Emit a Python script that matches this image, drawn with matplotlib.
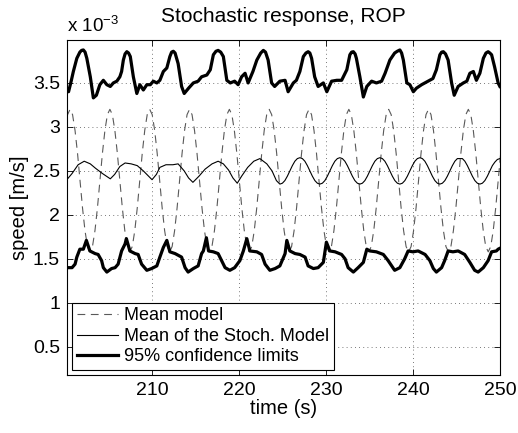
import numpy as np
import matplotlib
matplotlib.use('Agg')
import matplotlib.pyplot as plt

plt.rcParams['font.family'] = ['Liberation Sans', 'DejaVu Sans']
plt.rcParams['mathtext.fontset'] = 'custom'
plt.rcParams['mathtext.rm'] = 'Liberation Sans'
plt.rcParams['mathtext.it'] = 'Liberation Sans'

# speed values are in units of 1e-3 m/s
# mean model: sampled every 0.28625 s from t = 200 s
model_speed = [
    2.96, 3.14, 3.20, 3.14, 2.96, 2.70, 2.39, 2.08, 1.82, 1.64, 1.58, 1.64, 1.82, 2.08, 2.39, 2.70,
    2.96, 3.14, 3.20, 3.14, 2.96, 2.70, 2.39, 2.08, 1.82, 1.64, 1.58, 1.64, 1.82, 2.08, 2.39, 2.70,
    2.96, 3.14, 3.20, 3.14, 2.96, 2.70, 2.39, 2.08, 1.82, 1.64, 1.58, 1.64, 1.82, 2.08, 2.39, 2.70,
    2.96, 3.14, 3.20, 3.14, 2.96, 2.70, 2.39, 2.08, 1.82, 1.64, 1.58, 1.64, 1.82, 2.08, 2.39, 2.70,
    2.96, 3.14, 3.20, 3.14, 2.96, 2.70, 2.39, 2.08, 1.82, 1.64, 1.58, 1.64, 1.82, 2.08, 2.39, 2.70,
    2.96, 3.14, 3.20, 3.14, 2.96, 2.70, 2.39, 2.08, 1.82, 1.64, 1.58, 1.64, 1.82, 2.08, 2.39, 2.70,
    2.96, 3.14, 3.20, 3.14, 2.96, 2.70, 2.39, 2.08, 1.82, 1.64, 1.58, 1.64, 1.82, 2.08, 2.39, 2.70,
    2.96, 3.14, 3.20, 3.14, 2.96, 2.70, 2.39, 2.08, 1.82, 1.64, 1.58, 1.64, 1.82, 2.08, 2.39, 2.70,
    2.96, 3.14, 3.20, 3.14, 2.96, 2.70, 2.39, 2.08, 1.82, 1.64, 1.58, 1.64, 1.82, 2.08, 2.39, 2.70,
    2.96, 3.14, 3.20, 3.14, 2.96, 2.70, 2.39, 2.08, 1.82, 1.64, 1.58, 1.64, 1.82, 2.08, 2.39, 2.70,
    2.96, 3.14, 3.20, 3.14, 2.96, 2.70, 2.39, 2.08, 1.82, 1.64, 1.58, 1.64, 1.82, 2.08, 2.39, 2.70,
    2.96,
]
t_model = 200.0 + 0.28625 * np.arange(len(model_speed))

# mean of the stochastic model, irregular part
t_stoch_a = [200.2, 200.8, 201.5, 202.2, 202.9, 203.5, 204.3, 205.2, 205.7, 206.3,
             206.9, 207.6, 208.3, 209.0, 209.6, 210.0, 210.5, 210.9, 211.6, 212.4,
             213.0, 213.7, 214.2, 214.7, 215.4, 216.1, 216.9, 217.6, 218.2, 218.8,
             219.3, 219.8, 220.3, 221.0, 221.7, 222.4, 223.2, 223.8, 224.3]
stoch_a = [2.40, 2.47, 2.57, 2.61, 2.58, 2.53, 2.47, 2.41, 2.46, 2.55,
           2.59, 2.58, 2.56, 2.50, 2.44, 2.40, 2.46, 2.54, 2.57, 2.57,
           2.58, 2.50, 2.42, 2.37, 2.44, 2.52, 2.58, 2.61, 2.58, 2.51,
           2.42, 2.36, 2.44, 2.54, 2.61, 2.64, 2.58, 2.50, 2.39]
# regular part, sampled every 0.2875 s from t = 224.7 s
stoch_b = [
    2.35, 2.36, 2.39, 2.44, 2.50, 2.56, 2.61, 2.64, 2.65, 2.64, 2.61, 2.56, 2.50, 2.44, 2.39, 2.36,
    2.35, 2.36, 2.39, 2.44, 2.50, 2.56, 2.61, 2.64, 2.65, 2.64, 2.61, 2.56, 2.50, 2.44, 2.39, 2.36,
    2.35, 2.36, 2.39, 2.44, 2.50, 2.56, 2.61, 2.64, 2.65, 2.64, 2.61, 2.56, 2.50, 2.44, 2.39, 2.36,
    2.35, 2.36, 2.39, 2.44, 2.50, 2.56, 2.61, 2.64, 2.65, 2.64, 2.61, 2.56, 2.50, 2.44, 2.39, 2.36,
    2.35, 2.36, 2.39, 2.44, 2.50, 2.56, 2.61, 2.64, 2.64, 2.64, 2.61, 2.56, 2.50, 2.44, 2.39, 2.36,
    2.35, 2.36, 2.39, 2.44, 2.50, 2.56, 2.60, 2.63, 2.64,
]
t_stoch_b = 224.7 + 0.2875 * np.arange(len(stoch_b))

# 95% confidence limits
t_upper = [200.2, 200.4, 200.7, 200.95, 201.35, 201.7, 201.9, 202.1, 202.3, 202.5, 202.9, 203.25,
           203.6, 204.0, 204.4, 204.8, 205.2, 205.55, 205.95, 206.3, 206.5, 206.7,
           206.9, 207.1, 207.3, 207.5, 207.85, 208.25, 208.6, 209.0, 209.4, 209.8, 210.15, 210.55,
           210.9, 211.3, 211.7, 212.05, 212.25, 212.45, 212.65, 213.0, 213.4, 213.7, 214.2,
           214.75, 215.3, 215.7, 216.3, 216.7, 217.05, 217.35, 217.6, 217.9, 218.2, 218.6, 219.0,
           219.5, 219.9, 220.3, 220.7, 221.05, 221.6, 222.05, 222.5, 222.8, 223.05, 223.35, 223.75,
           224.1, 224.7, 225.3, 225.65, 226.25, 226.6, 227.0, 227.4, 227.7, 227.95, 228.15, 228.35,
           228.7, 229.1, 229.7, 230.1, 230.65, 231.25, 231.8, 232.4, 232.75, 232.95, 233.15, 233.35,
           233.5, 233.9, 234.3, 234.7, 235.25, 235.8, 236.4, 236.8, 237.35, 237.9,
           238.2, 238.5, 238.7, 238.9, 239.3, 239.65, 240.05, 240.4, 241.0, 241.75, 242.3, 242.7,
           243.1, 243.3, 243.5, 243.75, 244.05, 244.45, 244.75, 245.2, 245.8, 246.2, 246.55, 246.95,
           247.3, 247.7, 248.1, 248.4, 248.65, 248.85, 249.05, 249.4, 249.8, 250.0]
upper = [3.44, 3.40, 3.52, 3.63, 3.78, 3.85, 3.87, 3.875, 3.85, 3.78, 3.57, 3.33,
         3.36, 3.48, 3.53, 3.48, 3.46, 3.50, 3.52, 3.57, 3.63, 3.76,
         3.83, 3.855, 3.84, 3.80, 3.57, 3.38, 3.48, 3.42, 3.48, 3.48, 3.52, 3.50,
         3.53, 3.63, 3.67, 3.80, 3.85, 3.86, 3.84, 3.72, 3.46, 3.38, 3.44,
         3.50, 3.52, 3.57, 3.59, 3.65, 3.82, 3.86, 3.87, 3.85, 3.80, 3.53, 3.50,
         3.52, 3.48, 3.57, 3.61, 3.50, 3.63, 3.76, 3.84, 3.87, 3.85, 3.76, 3.50,
         3.46, 3.52, 3.53, 3.40, 3.50, 3.53, 3.63, 3.80, 3.84, 3.855, 3.84, 3.78,
         3.57, 3.46, 3.50, 3.40, 3.52, 3.53, 3.53, 3.65, 3.82, 3.85, 3.855, 3.83,
         3.78, 3.57, 3.34, 3.46, 3.52, 3.50, 3.52, 3.61, 3.76, 3.84,
         3.86, 3.875, 3.84, 3.76, 3.50, 3.48, 3.40, 3.44, 3.48, 3.52, 3.55, 3.65,
         3.82, 3.85, 3.855, 3.83, 3.76, 3.50, 3.36, 3.46, 3.50, 3.52, 3.61, 3.63,
         3.53, 3.61, 3.78, 3.84, 3.855, 3.84, 3.82, 3.68, 3.50, 3.46]

t_lower = [200.2, 200.8, 201.15, 201.35, 201.7, 202.1, 202.45, 202.85, 203.45, 203.8,
           204.2, 204.4, 204.8, 205.35, 205.75, 206.1, 206.5, 206.9, 207.05, 207.45,
           208.05, 208.4, 208.8, 209.4, 209.95, 210.55, 210.9, 211.3, 211.7, 212.05,
           212.65, 213.4, 213.8, 214.15, 214.75, 215.3, 215.7, 215.9, 216.25, 216.5,
           217.05, 217.6, 218.0, 218.4, 218.95, 219.5, 220.1, 220.5, 220.9, 221.25,
           222.05, 222.6, 223.0, 223.55, 224.15, 224.7, 225.3, 225.5, 225.85, 226.45,
           227.0, 227.6, 227.95, 228.55, 229.1, 229.7, 230.05, 230.45, 231.05, 231.8,
           232.2, 232.55, 233.15, 233.7, 234.3, 234.7, 235.05, 235.8, 236.6, 237.15,
           237.9, 238.5, 239.05, 239.45, 240.0, 240.6, 241.4, 241.95, 242.35, 242.7,
           243.3, 243.65, 244.05, 244.6, 245.2, 245.95, 246.55, 247.1, 247.5, 248.1,
           248.65, 249.05, 249.6, 249.8, 250.0]
lower = [1.40, 1.40, 1.44, 1.52, 1.61, 1.61, 1.71, 1.59, 1.56, 1.55,
         1.48, 1.40, 1.35, 1.39, 1.40, 1.44, 1.59, 1.67, 1.73, 1.59,
         1.56, 1.55, 1.44, 1.37, 1.39, 1.42, 1.52, 1.63, 1.71, 1.58,
         1.56, 1.52, 1.40, 1.35, 1.39, 1.42, 1.56, 1.59, 1.74, 1.59,
         1.58, 1.56, 1.48, 1.40, 1.37, 1.40, 1.48, 1.59, 1.73, 1.59,
         1.58, 1.55, 1.44, 1.37, 1.39, 1.42, 1.56, 1.71, 1.59, 1.56,
         1.55, 1.52, 1.42, 1.39, 1.40, 1.46, 1.69, 1.59, 1.58, 1.55,
         1.50, 1.40, 1.35, 1.40, 1.46, 1.61, 1.59, 1.58, 1.55, 1.48,
         1.37, 1.40, 1.50, 1.59, 1.58, 1.59, 1.55, 1.48, 1.39, 1.35,
         1.40, 1.48, 1.59, 1.58, 1.59, 1.55, 1.46, 1.37, 1.35, 1.40,
         1.48, 1.58, 1.59, 1.61, 1.62]

x_ticks = [210, 220, 230, 240, 250]
y_ticks = [0.5, 1, 1.5, 2, 2.5, 3, 3.5]
y_tick_labels = ['0.5', '1', '1.5', '2', '2.5', '3', '3.5']

fig = plt.figure(figsize=(5.18, 4.33), dpi=100)
ax = fig.add_axes([0.129, 0.134, 0.836, 0.774])

ax.plot(t_model, model_speed, color='0.35', lw=0.8, dashes=(7, 5), label='Mean model')
ax.plot(np.concatenate([t_stoch_a, t_stoch_b]), stoch_a + stoch_b, color='black', lw=0.8,
        label='Mean of the Stoch. Model')
ax.plot(t_upper, upper, color='black', lw=2.3, label='95% confidence limits')
ax.plot(t_lower, lower, color='black', lw=2.3)

ax.set_xlim(200.2, 250)
ax.set_ylim(0.18, 3.99)
ax.set_xticks(x_ticks)
ax.set_yticks(y_ticks)
ax.set_yticklabels(y_tick_labels)
ax.tick_params(direction='in', length=4, top=True, right=True, labelsize=14, width=0.6, pad=5)
ax.grid(True, color='0.3', linestyle=(0, (1, 4)), lw=0.6)
for s in ax.spines.values():
    s.set_linewidth(0.8)

ax.set_title('Stochastic response, ROP', fontsize=15, pad=13)
ax.set_xlabel('time (s)', fontsize=14.5, labelpad=0)
ax.set_ylabel('speed [m/s]', fontsize=14.5, labelpad=3)
ax.text(0.0, 1.01, r'x 10$^{-3}$', transform=ax.transAxes, fontsize=13.5, va='bottom')

leg = ax.legend(loc='lower left', bbox_to_anchor=(0.013, 0.015), borderaxespad=0,
                fontsize=13, fancybox=False, framealpha=1, edgecolor='black',
                handlelength=2.3, handletextpad=0.3, labelspacing=0.2, borderpad=0.25)
leg.get_frame().set_linewidth(0.8)

fig.savefig('out.png', dpi=100)
